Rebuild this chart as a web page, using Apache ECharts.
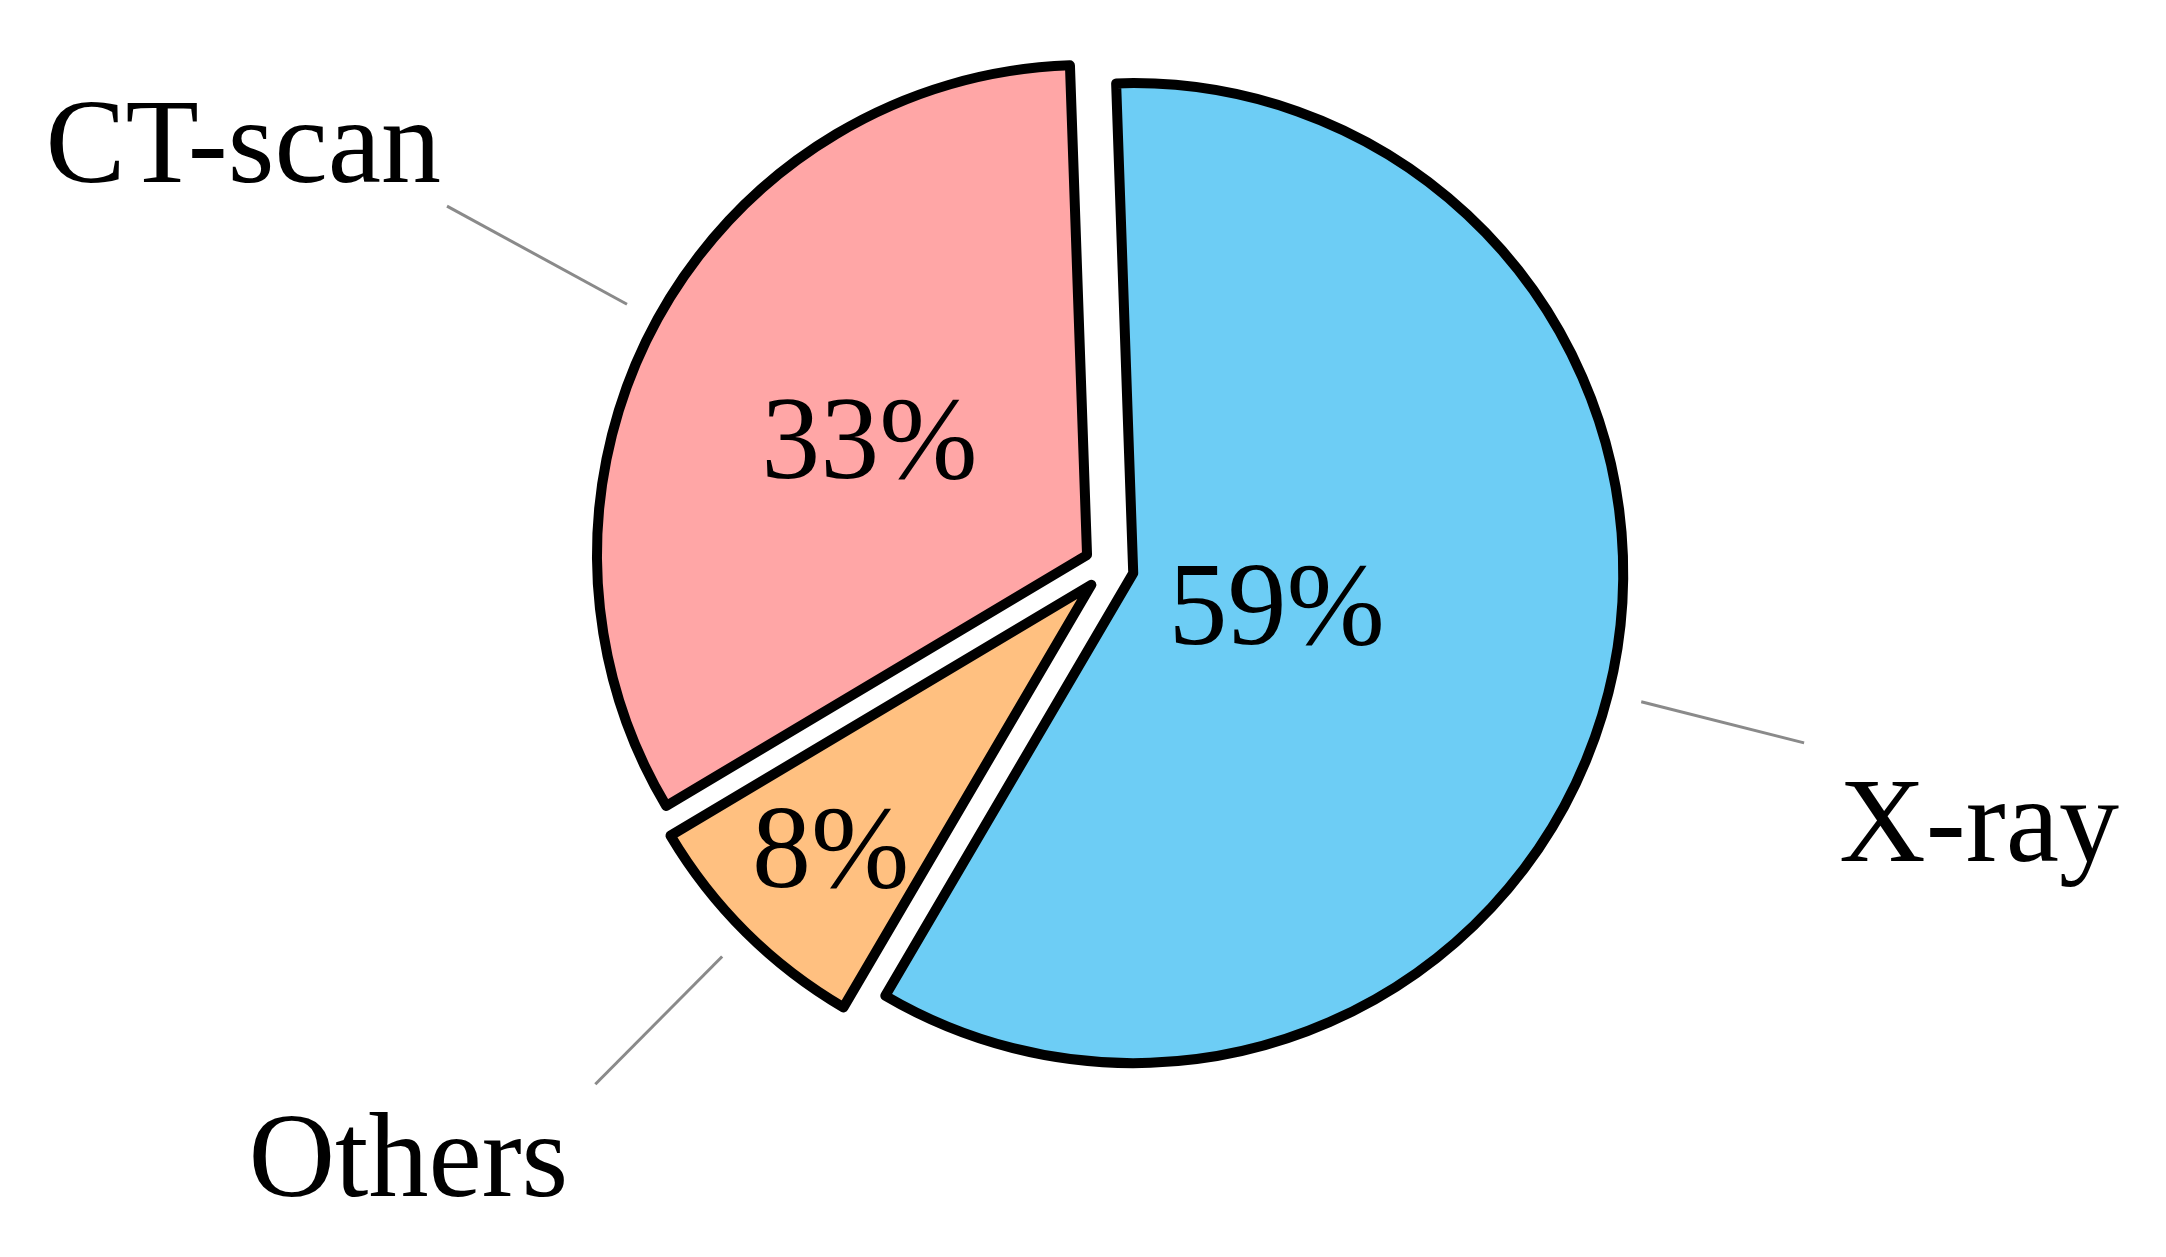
<!DOCTYPE html>
<html>
<head>
<meta charset="utf-8">
<script src="https://cdn.jsdelivr.net/npm/echarts@6/dist/echarts.min.js"></script>
<style>
html, body { margin: 0; padding: 0; background: #ffffff; }
#container { width: 2166px; height: 1257px; }
</style>
</head>
<body>
<div id="container"></div>
<script type="text/javascript">
    var names = ['X-ray', 'Others', 'CT-scan'];
    var values = [59, 8, 33];
    var colors = ['#6dcdf5', '#ffc080', '#ffa6a6'];

    // label tweaks: (rich) padding nudges the text, outer labels sit off the line end
    var innerPad = { 'X-ray': [0, 194, 42, 0], 'Others': [190, 172, 0, 0], 'CT-scan': [22, 0, 0, 0] };
    var outer = {
        'X-ray':   { len: 168, pad: [174, 0, 0, 0], dist: 35 },
        'Others':  { len: 180, pad: [160, 0, 0, 0], dist: 27 },
        'CT-scan': { len: 205, pad: [0, 0, 112, 0], dist: 6 }
    };

    var font = 'Liberation Serif';
    var center = [1109, 567];

    function richText(size) {
        return { t: { fontFamily: font, fontSize: size, color: '#000' } };
    }

    var sliceData = names.map(function (n, i) {
        return {
            name: n, value: values[i], selected: true,
            itemStyle: { color: colors[i] },
            select: { itemStyle: { color: colors[i], borderColor: '#000', borderWidth: 10 } },
            label: { padding: innerPad[n] }
        };
    });
    var labelData = names.map(function (n, i) {
        return {
            name: n, value: values[i], selected: true,
            label: { padding: outer[n].pad, distanceToLabelLine: outer[n].dist },
            labelLine: { length: outer[n].len, length2: 0 }
        };
    });

    var dom = document.getElementById('container');
    var myChart = echarts.init(dom);
    var option = {
        animation: false,
        backgroundColor: '#ffffff',
        series: [
            {
                type: 'pie',
                center: center,
                radius: 490,
                startAngle: 92,
                clockwise: true,
                selectedMode: 'multiple',
                selectedOffset: 25,
                avoidLabelOverlap: false,
                silent: true,
                itemStyle: { borderColor: '#000', borderWidth: 10, borderJoin: 'round' },
                label: {
                    show: true, position: 'inside', formatter: '{t|{c}%}',
                    fontFamily: font, fontSize: 118, color: '#000',
                    rich: richText(118)
                },
                labelLine: { show: false },
                emphasis: { disabled: true },
                data: sliceData
            },
            {
                type: 'pie',
                center: center,
                radius: 524,
                startAngle: 92,
                clockwise: true,
                selectedMode: 'multiple',
                selectedOffset: 25,
                avoidLabelOverlap: false,
                silent: true,
                itemStyle: { color: 'rgba(0,0,0,0)', borderWidth: 0 },
                select: { itemStyle: { color: 'rgba(0,0,0,0)', borderWidth: 0 } },
                label: {
                    show: true, position: 'outside', formatter: '{t|{b}}',
                    fontFamily: font, fontSize: 120, color: '#000',
                    rich: richText(120)
                },
                labelLine: { show: true, lineStyle: { color: '#8a8a8a', width: 3 } },
                emphasis: { disabled: true },
                data: labelData
            }
        ]
    };
    myChart.setOption(option, true);
</script>
</body>
</html>
